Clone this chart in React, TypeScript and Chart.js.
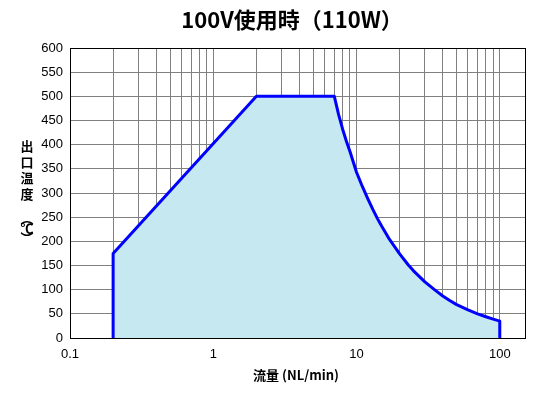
import React, { useEffect, useRef } from "react";
import { Chart, registerables } from "chart.js";

Chart.register(...registerables);

const flow: number[] = [
  0.2, 0.2, 2, 7, 7.5, 8, 8.5, 9, 10, 11, 12, 13, 14, 15, 17, 20, 23, 25, 30, 35, 40, 45, 50, 60, 70, 80, 90, 100, 100,
];
const temp: number[] = [
  0, 175, 500, 500, 462, 432, 407, 386, 343, 313, 288, 266, 247, 231, 204, 174, 151, 139, 116, 100, 87, 77, 69, 58, 50, 44, 39, 35, 0,
];
const yTicks: number[] = [0, 50, 100, 150, 200, 250, 300, 350, 400, 450, 500, 550, 600];
const xGridValues: number[] = [
  0.1, 0.2, 0.3, 0.4, 0.5, 0.6, 0.7, 0.8, 0.9,
  1, 2, 3, 4, 5, 6, 7, 8, 9,
  10, 20, 30, 40, 50, 60, 70, 80, 90, 100,
];
const xLabels: number[] = [0.1, 1, 10, 100];
const titleText = "100V使用時（110W）";
const xTitle = "流量 (NL/min)";
const yTitleChars: string[] = ["出", "口", "温", "度"];
const yUnitChars: string[] = ["︵", "℃", "︶"];

const FONT = "'Liberation Sans', Arial, sans-serif";
const JP = "'Noto Sans CJK JP', sans-serif";

export default function App() {
  const ref = useRef<HTMLCanvasElement | null>(null);

  useEffect(() => {
    document.body.style.margin = "0";
    const canvas = ref.current;
    if (!canvas) return;

    const deco = {
      id: "deco",
      afterDraw(chart: any) {
        const ctx = chart.ctx as CanvasRenderingContext2D;
        const a = chart.chartArea;
        ctx.save();
        ctx.strokeStyle = "#000";
        ctx.lineWidth = 1;
        ctx.strokeRect(Math.round(a.left) + 0.5, Math.round(a.top) + 0.5, Math.round(a.right - a.left), Math.round(a.bottom - a.top));
        ctx.fillStyle = "#000";
        ctx.textAlign = "center";
        ctx.textBaseline = "middle";
        ctx.font = `bold 22px ${JP}`;
        ctx.fillText(titleText, 292, 20);
        ctx.font = `bold 13px ${JP}`;
        ctx.fillText(xTitle, 296, 375);
        ctx.restore();
      },
    };

    const chart = new Chart(canvas, {
      type: "line",
      data: {
        datasets: [
          {
            data: flow.map((f, i) => ({ x: f, y: temp[i] })),
            borderColor: "#0000ff",
            borderWidth: 3,
            backgroundColor: "#c5e8f1",
            fill: "origin",
            pointRadius: 0,
            tension: 0,
            borderJoinStyle: "round",
          },
        ],
      },
      options: {
        animation: false,
        responsive: false,
        maintainAspectRatio: false,
        layout: { padding: { top: 48, right: 27, left: 0, bottom: 0 } },
        plugins: { legend: { display: false }, tooltip: { enabled: false }, title: { display: false } },
        scales: {
          x: {
            type: "logarithmic",
            min: 0.1,
            max: 150,
            afterBuildTicks(scale: any) {
              scale.ticks = xGridValues.map((v) => ({ value: v }));
            },
            afterFit(scale: any) {
              scale.height = 62;
            },
            grid: { color: "#808080", lineWidth: 1, drawTicks: false },
            border: { display: false },
            ticks: {
              autoSkip: false,
              maxRotation: 0,
              padding: 9,
              color: "#000",
              font: { family: FONT, size: 13 },
              callback: (v: any) => (xLabels.includes(Number(v)) ? String(v) : ""),
            },
          },
          y: {
            type: "linear",
            min: 0,
            max: 600,
            afterBuildTicks(scale: any) {
              scale.ticks = yTicks.map((v) => ({ value: v }));
            },
            afterFit(scale: any) {
              scale.width = 70;
            },
            grid: { color: "#808080", lineWidth: 1, drawTicks: false },
            border: { display: false },
            ticks: {
              padding: 7,
              color: "#000",
              font: { family: FONT, size: 13 },
            },
          },
        },
      },
      plugins: [deco],
    });

    return () => chart.destroy();
  }, []);

  const charStyle = (top: number): React.CSSProperties => ({
    position: "absolute",
    left: 19,
    top: top - 8,
    width: 16,
    height: 16,
    lineHeight: "16px",
    textAlign: "center",
    fontFamily: JP,
    fontWeight: "bold",
    fontSize: 13,
    color: "#000",
  });
  const titleTops = [146, 162, 178, 194];
  const unitTops = [218, 228, 238];

  return (
    <div style={{ width: 552, height: 400, position: "relative" }}>
      <canvas ref={ref} width={552} height={400} style={{ width: 552, height: 400, display: "block" }} />
      {yTitleChars.map((c, i) => (
        <div key={"t" + i} style={charStyle(titleTops[i])}>{c}</div>
      ))}
      {yUnitChars.map((c, i) => (
        <div key={"u" + i} style={charStyle(unitTops[i])}>{c}</div>
      ))}
    </div>
  );
}
